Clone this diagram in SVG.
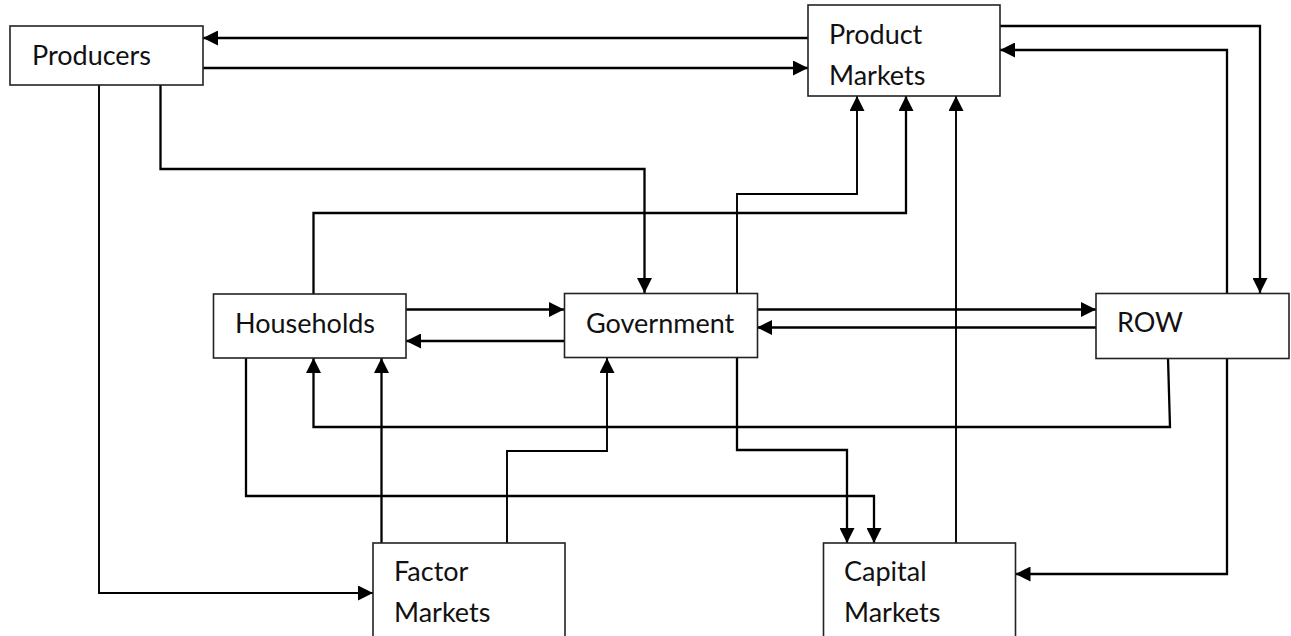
<svg xmlns="http://www.w3.org/2000/svg" width="1291" height="636" viewBox="0 0 1291 636">
<style>
.box{fill:#fff;stroke:#222;stroke-width:1.6}
.lbl{font-family:Lato,"Liberation Sans",sans-serif;font-size:27px;fill:#111}
.c{fill:none;stroke:#000;stroke-width:2.3;marker-end:url(#ah)}
.t{stroke-width:1.9}
</style>
<defs>
<marker id="ah" markerUnits="userSpaceOnUse" markerWidth="15" markerHeight="15" refX="15" refY="7.5" orient="auto">
<path d="M0,0 L15,7.5 L0,15 Z" fill="#000"/>
</marker>
</defs>
<rect width="1291" height="636" fill="#fff"/>
<g id="connectors">
<path class="c" d="M808,38 H203"/>
<path class="c" d="M203,68 H808"/>
<path class="c t" d="M99,85 V593 H373"/>
<path class="c" d="M160.5,85 V169 H644.5 V293"/>
<path class="c t" d="M737,293 V194 H857 V96"/>
<path class="c" d="M313.5,294 V213 H906 V96"/>
<path class="c t" d="M956,543 V96"/>
<path class="c" d="M1000,26 H1260 V293"/>
<path class="c" d="M1227,293 V50 H1000"/>
<path class="c" d="M406,309.5 H564"/>
<path class="c" d="M564,341 H406"/>
<path class="c" d="M757,309.5 H1096"/>
<path class="c" d="M1096,327.5 H757"/>
<path class="c" d="M1168,358 L1170,427 H313.5 V358"/>
<path class="c" d="M381.5,543 V358"/>
<path class="c t" d="M507,543 V451 H607 V358"/>
<path class="c" d="M246,358 V496 H874 V543"/>
<path class="c" d="M737,358 V450 H847 V543"/>
<path class="c" d="M1227,358 V574 H1015.5"/>
</g>
<g id="producers">
<rect class="box" x="10" y="26" width="193" height="59"/>
<text class="lbl" x="32" y="65">Producers</text>
</g>
<g id="product-markets">
<rect class="box" x="808" y="5" width="192" height="91"/>
<text class="lbl" x="829" y="44">Product</text>
<text class="lbl" x="829" y="85">Markets</text>
</g>
<g id="households">
<rect class="box" x="213.5" y="294" width="192.5" height="64"/>
<text class="lbl" x="235" y="333">Households</text>
</g>
<g id="government">
<rect class="box" x="564.5" y="293.5" width="193" height="64"/>
<text class="lbl" x="586" y="333">Government</text>
</g>
<g id="row">
<rect class="box" x="1096" y="293.5" width="193" height="65"/>
<text class="lbl" x="1117" y="332">ROW</text>
</g>
<g id="factor-markets">
<rect class="box" x="373" y="543" width="192" height="95"/>
<text class="lbl" x="394" y="581">Factor</text>
<text class="lbl" x="394" y="622">Markets</text>
</g>
<g id="capital-markets">
<rect class="box" x="823.5" y="543" width="192" height="95"/>
<text class="lbl" x="844" y="581">Capital</text>
<text class="lbl" x="844" y="622">Markets</text>
</g>
</svg>
